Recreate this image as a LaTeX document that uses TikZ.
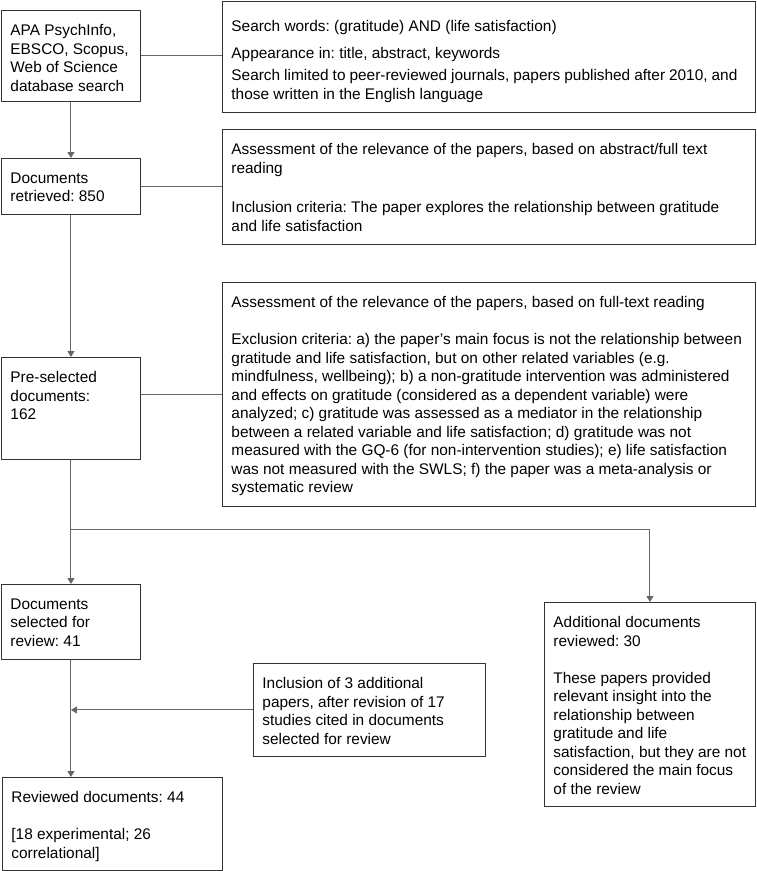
\documentclass[tikz,border=0pt]{standalone}
\usepackage{fontspec}
\setmainfont{Liberation Sans}
\usetikzlibrary{arrows.meta,calc}

\definecolor{linegray}{HTML}{666666}
\definecolor{boxline}{HTML}{333333}

% top-aligned box text: [top pad]{width}{height}{text}
\newcommand{\boxtext}[4][14pt]{\parbox[c][#3][t]{#2}{\vspace*{#1}\raggedright\frenchspacing #4}}
% one line spread to a given width
\newcommand{\spreadline}[2]{\leavevmode\hbox to #1{\spaceskip=4pt plus 1fil\relax #2}}

\begin{document}
\begin{tikzpicture}[x=1pt, y=-1pt, font=\fontsize{15.4}{18.5}\selectfont,
    >={Triangle[width=7pt,length=6pt]},
    flow/.style={draw=boxline, line width=0.9pt, inner xsep=9pt,
                 inner ysep=0pt, anchor=north west},
    link/.style={draw=linegray, line width=1pt},
    arr/.style={link, ->}]

  \useasboundingbox (0,0) rectangle (756,871);

  %% Main flow (left column)
  \node[flow] (db)  at (1,10)  {\boxtext{121pt}{91pt}{APA PsychInfo,\\EBSCO, Scopus,\\Web of Science\\database search}};
  \node[flow] (ret) at (1,158) {\boxtext{121pt}{56pt}{Documents\\retrieved: 850}};
  \node[flow] (pre) at (1,357) {\boxtext{121pt}{102pt}{Pre-selected\\documents:\\162}};
  \node[flow] (sel) at (1,584) {\boxtext{121pt}{75pt}{Documents\\selected for\\review: 41}};
  \node[flow] (rev) at (2,777) {\boxtext{202pt}{93pt}{Reviewed documents: 44\\[18.5pt]{[}18 experimental; 26\\correlational]}};

  %% Criteria (right column)
  \node[flow] (search) at (222,1) {\boxtext[19pt]{515pt}{111pt}{Search words: (gratitude) AND (life satisfaction)\\[8pt]Appearance in: title, abstract, keywords\\[4pt]\spreadline{505pt}{Search limited to peer-reviewed journals, papers published after 2010, and}\\those written in the English language}};
  \node[flow] (relev) at (222,129) {\boxtext{515pt}{115pt}{Assessment of the relevance of the papers, based on abstract/full text\\reading\\[21pt]Inclusion criteria: The paper explores the relationship between gratitude\\and life satisfaction}};
  \node[flow] (excl) at (222,282) {\boxtext{515pt}{224pt}{Assessment of the relevance of the papers, based on full-text reading\\[18.5pt]Exclusion criteria: a) the paper’s main focus is not the relationship between\\gratitude and life satisfaction, but on other related variables (e.g.\\mindfulness, wellbeing); b) a non-gratitude intervention was administered\\and effects on gratitude (considered as a dependent variable) were\\analyzed; c) gratitude was assessed as a mediator in the relationship\\between a related variable and life satisfaction; d) gratitude was not\\measured with the GQ-6 (for non-intervention studies); e) life satisfaction\\was not measured with the SWLS; f) the paper was a meta-analysis or\\systematic review}};

  %% Side boxes
  \node[flow] (incl) at (253,663) {\boxtext{214pt}{93pt}{Inclusion of 3 additional\\papers, after revision of 17\\studies cited in documents\\selected for review}};
  \node[flow] (addl) at (544,602) {\boxtext{193pt}{204pt}{Additional documents\\reviewed: 30\\[18.5pt]These papers provided\\relevant insight into the\\relationship between\\gratitude and life\\satisfaction, but they are not\\considered the main focus\\of the review}};

  %% Connectors
  \draw[link] (db.east) -- (db.east -| search.west);
  \draw[arr]  (db.south) -- (ret.north);
  \draw[link] (ret.east) -- (ret.east -| relev.west);
  \draw[arr]  (ret.south) -- (pre.north);
  \draw[link] (excl.west) -- (excl.west -| pre.east);
  \draw[arr]  (pre.south) -- (sel.north);
  \coordinate (split) at (70.5,529);
  \draw[arr]  (split) -| (addl.north);
  \draw[arr]  (sel.south) -- (sel.south |- rev.north);
  \draw[arr]  (incl.west) -- (incl.west -| sel.south);
\end{tikzpicture}
\end{document}
